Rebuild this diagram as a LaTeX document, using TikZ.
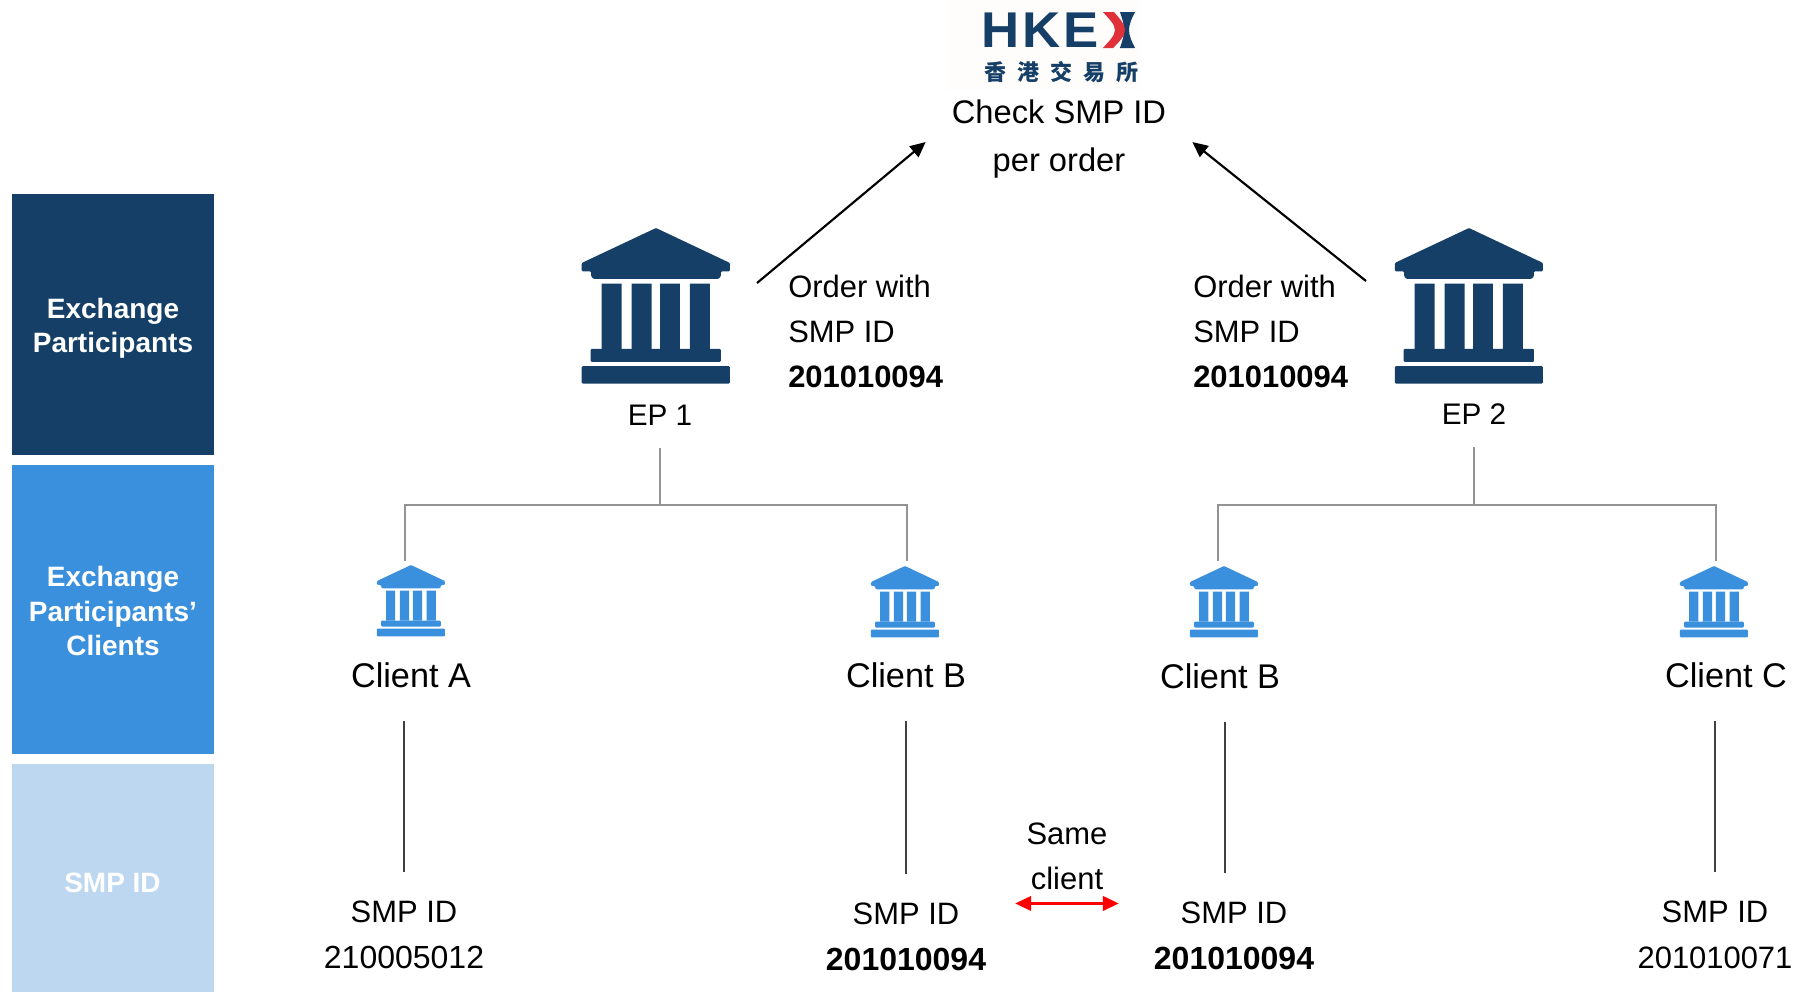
\documentclass[tikz,border=0pt]{standalone}
\usepackage{fontspec}
\setmainfont{Liberation Sans}
\newfontfamily\logofont[FakeStretch=1.05,LetterSpace=6]{Liberation Sans}
\newfontfamily\logocjk[LetterSpace=50]{Noto Sans CJK TC}
\usetikzlibrary{arrows.meta}
\definecolor{epblue}{HTML}{153F66}
\definecolor{clientblue}{HTML}{3B90DD}
\definecolor{smpblue}{HTML}{BDD7F0}
\definecolor{logored}{HTML}{E0303A}
\definecolor{logoback}{HTML}{FEFDFC}
\newcommand{\smpnum}{\fontsize{24}{34}\selectfont}
\tikzset{
bank/.pic={
  \path[pic actions,rounded corners=0.8pt]
    (0,0) -- (222,105) -- (222,130) -- (195,130) -- (195,145) -- (188,153) -- (-188,153)
      -- (-195,145) -- (-195,130) -- (-223,130) -- (-223,105) -- cycle
    (-196,363) rectangle (195,402)
    (-223,415) rectangle (222,467);
  \path[pic actions]
    (-163,167) rectangle (-103,363)
    (-73,167) rectangle (-13,363)
    (12,167) rectangle (72,363)
    (102,167) rectangle (162,363);
}}
\begin{document}
\begin{tikzpicture}[
x=0.75pt,y=-0.75pt,
band/.style={inner sep=0,minimum width=151.5pt},
bandlabel/.style={text=white,align=center,inner sep=0,font=\fontsize{21}{25.7}\selectfont\bfseries},
txt/.style={align=center,inner sep=0,font=\fontsize{23.2}{34}\selectfont},
eplabel/.style={txt,font=\fontsize{22.3}{26}\selectfont,minimum height=49.5pt},
client/.style={txt,font=\fontsize{25.7}{30}\selectfont,minimum height=69pt},
smpid/.style={txt,minimum height=94.5pt},
order/.style={txt,align=left,anchor=west},
treeline/.style={draw=black!42,line width=0.8pt},
stem/.style={draw=black!75,line width=0.8pt},
toplink/.style={draw=black,line width=1.6pt,-{Triangle[length=11.5pt,width=10.5pt]}},
samelink/.style={draw=red,line width=1.6pt,{Triangle[length=12pt,width=11pt]}-{Triangle[length=12pt,width=11pt]}},
]
\useasboundingbox (0,0) rectangle (1803,992);
\node[band,fill=epblue,minimum height=195.75pt] (epband) at (113,324.5) {};
\node[band,fill=clientblue,minimum height=216.75pt] (clientband) at (113,609.5) {};
\node[band,fill=smpblue,minimum height=171pt] (smpband) at (112.5,878) {};
\node[bandlabel] (eptext) at (113,328.5) {Exchange\\Participants};
\node[bandlabel] (clienttext) at (113,611) {Exchange\\Participants’\\Clients};
\node[bandlabel] (smptext) at (112.5,882.5) {SMP ID};
\fill[logoback] (947,0) rectangle (1140,90);
\node[inner sep=0,text=epblue,font=\logofont\fontsize{37.7}{40}\selectfont\bfseries,anchor=west] (hkex) at (981,30) {HKE};
\fill[epblue] (1135,12) -- (1120,12) .. controls (1122,19) and (1125,25) .. (1123,30) .. controls (1125,35) and (1122,41) .. (1120,48) -- (1135,48) .. controls (1132,42) and (1129,36) .. (1129,30) .. controls (1129,24) and (1132,18) .. (1135,12) -- cycle;
\fill[logored] (1114,12) .. controls (1119,18) and (1125,24) .. (1125,30) .. controls (1125,36) and (1119,42) .. (1113,48) -- (1103,48) .. controls (1108,42) and (1115,36) .. (1115,30) .. controls (1115,24) and (1108,18) .. (1103,12) -- cycle;
\node[inner sep=0,text=epblue,font=\logocjk\fontsize{16.5}{18}\selectfont\bfseries] (hkexcn) at (1061,72) {香港交易所};
\node[txt,font=\fontsize{24.5}{36}\selectfont,inner xsep=19.5pt] (check) at (1059,138.7) {Check SMP ID\\per order};
\pic[scale=0.333,fill=epblue] at (656,228) {bank};
\pic[scale=0.333,fill=epblue] at (1469,228) {bank};
\node[eplabel] (ep1) at (660,415) {EP 1};
\node[eplabel] (ep2) at (1474,414) {EP 2};
\node[order] (order1) at (788,331.5) {Order with\\SMP ID\\\textbf{201010094}};
\node[order] (order2) at (1193,331.5) {Order with\\SMP ID\\\textbf{201010094}};
\coordinate (start1) at (757,283);
\coordinate (start2) at (1366,281);
\draw[toplink] (start1) -- ([yshift=-2.5pt]check.west);
\draw[toplink] (start2) -- ([yshift=-2.5pt]check.east);
\pic[scale=0.153,fill=clientblue] at (411,565) {bank};
\pic[scale=0.153,fill=clientblue] at (905,566) {bank};
\pic[scale=0.153,fill=clientblue] at (1224,566) {bank};
\pic[scale=0.153,fill=clientblue] at (1714,566) {bank};
\node[client] (clienta) at (411,675) {Client A};
\node[client] (clientb) at (906,675) {Client B};
\node[client] (clientbb) at (1220,676) {Client B};
\node[client] (clientc) at (1726,675) {Client C};
\node[smpid] (smpa) at (404,935) {SMP ID\\\smpnum 210005012};
\node[smpid] (smpb) at (906,937) {SMP ID\\\smpnum\textbf{201010094}};
\node[smpid] (smpbb) at (1234,936) {SMP ID\\\smpnum\textbf{201010094}};
\node[smpid] (smpc) at (1715,935) {SMP ID\\201010071};
\coordinate (bus1) at (660,505);
\coordinate (bus2) at (1474,505);
\coordinate (dropa) at (405,561);
\coordinate (dropb) at (907,561);
\coordinate (dropbb) at (1218,561);
\coordinate (dropc) at (1716,561);
\draw[treeline] (ep1.south) -- (bus1);
\draw[treeline] (dropa) |- (bus1) -| (dropb);
\draw[treeline] (ep2.south) -- (bus2);
\draw[treeline] (dropbb) |- (bus2) -| (dropc);
\draw[stem] (smpa.north) -- (smpa.north |- clienta.south);
\draw[stem] (smpb.north) -- (smpb.north |- clientb.south);
\draw[stem] ([xshift=-6.75pt]smpbb.north) -- ([xshift=3.75pt]clientbb.south);
\draw[stem] (smpc.north) -- (smpc.north |- clientc.south);
\node[txt,minimum width=77.25pt,inner ysep=9.8pt] (same) at (1067,856.5) {Same\\client};
\draw[samelink] (same.south west) -- (same.south east);
\end{tikzpicture}
\end{document}
